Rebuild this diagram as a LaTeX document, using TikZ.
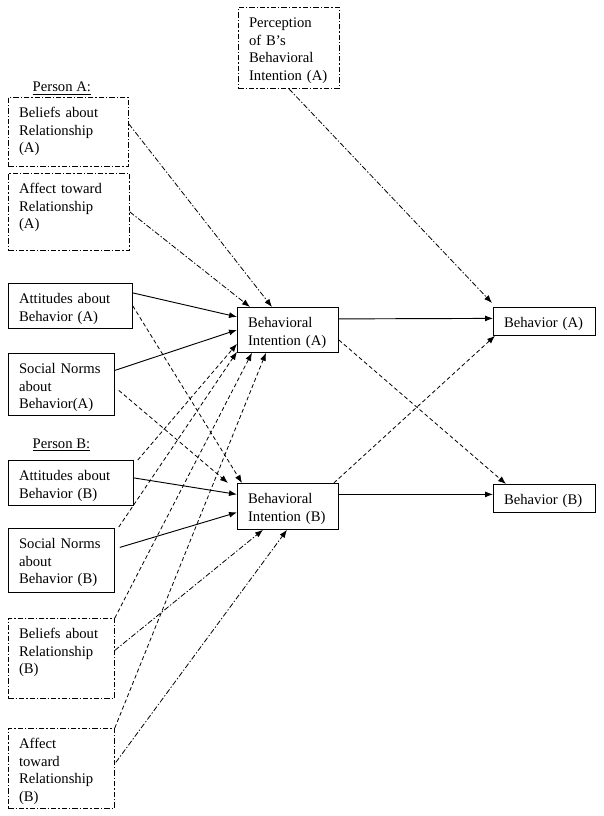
\documentclass[tikz,border=0pt]{standalone}
\usepackage{fontspec}
\setmainfont{Liberation Serif}
\usetikzlibrary{arrows.meta}

\begin{document}
\begin{tikzpicture}[x=0.75pt,y=-0.75pt,
        every node/.style={font=\fontsize{11pt}{13.3pt}\selectfont},
        box/.style={draw, anchor=north west, align=left, inner xsep=8pt, inner ysep=0pt, text height=15pt, line width=0.6pt},
        dotbox/.style={box, dash pattern=on 4pt off 1.5pt on 1pt off 1.5pt},
        solidarrow/.style={-{Latex[length=6pt,width=4.5pt]}, line width=0.7pt},
        dashedarrow/.style={-{Latex[length=6pt,width=4.5pt]}, line width=0.6pt, dash pattern=on 3pt off 2pt},
        dotarrow/.style={-{Latex[length=6pt,width=4.5pt]}, line width=0.6pt, dash pattern=on 4pt off 1.5pt on 1pt off 1.5pt}]
        \useasboundingbox (0,0) rectangle (603,816);

        % perception
        \node[dotbox, text width=59.75pt, text depth=45.75pt] (percep) at (238,7) {Perception\\of B’s\\Behavioral\\Intention (A)};

        % person A
        \node[anchor=base west] (persA) at (28,92) {\underline{Person A:}};
        \node[dotbox, text width=74pt, text depth=36.75pt] (beliefsA) at (8,97) {Beliefs about\\Relationship\\(A)};
        \node[dotbox, text width=74.75pt, text depth=42.75pt] (affectA) at (8,173) {Affect toward\\Relationship\\(A)};
        \node[box, text width=77pt, text depth=18.75pt] (attA) at (8,283) {Attitudes about\\Behavior (A)};
        \node[box, text width=63.5pt, text depth=31.5pt] (normsA) at (8,353) {Social Norms\\about\\Behavior(A)};

        % person B
        \node[anchor=base west] (persB) at (28,448) {\underline{Person B:}};
        \node[box, text width=77.75pt, text depth=18.75pt] (attB) at (8,460) {Attitudes about\\Behavior (B)};
        \node[box, text width=63.5pt, text depth=33pt] (normsB) at (8,528) {Social Norms\\about\\Behavior (B)};
        \node[dotbox, text width=63.5pt, text depth=45pt] (beliefsB) at (8,618) {Beliefs about\\Relationship\\(B)};
        \node[dotbox, text width=63.5pt, text depth=45pt] (affectB) at (8,728) {Affect\\toward\\Relationship\\(B)};

        % intentions
        \node[box, text width=59.75pt, text depth=18.75pt] (intA) at (237,307) {Behavioral\\Intention (A)};
        \node[box, text width=59.75pt, text depth=19.5pt] (intB) at (237,483) {Behavioral\\Intention (B)};

        % behaviors
        \node[box, text width=60.5pt, text depth=6pt] (behA) at (493,307) {Behavior (A)};
        \node[box, text width=60.5pt, text depth=6pt] (behB) at (493,484) {Behavior (B)};

        % into intention A
        \draw[dotarrow] ([shift={(0,-8)}]beliefsA.east) -- ([shift={(35,0)}]intA.north west);
        \draw[dotarrow] (affectA.east) -- ([shift={(13,0)}]intA.north west);
        \draw[solidarrow] ([shift={(0,-13)}]attA.east) -- ([shift={(0,-13)}]intA.west);
        \draw[solidarrow] ([shift={(0,-14)}]normsA.east) -- (intA.west);
        \draw[dashedarrow] ([shift={(4,0)}]attB.north east) -- ([shift={(0,-9)}]intA.south west);
        \draw[dashedarrow] ([shift={(4,-1)}]normsB.north east) -- ([shift={(0,-1)}]intA.south west);
        \draw[dashedarrow] (beliefsB.north east) -- ([shift={(15,0)}]intA.south west);
        \draw[dashedarrow] (affectB.north east) -- ([shift={(29,0)}]intA.south west);

        % into intention B
        \draw[dashedarrow] (attA.east) -- ([shift={(5,0)}]intB.north west);
        \draw[dashedarrow] ([shift={(4,6)}]normsA.east) -- ([shift={(-9,0)}]intB.north west);
        \draw[solidarrow] ([shift={(0,-5)}]attB.east) -- ([shift={(0,-12)}]intB.west);
        \draw[solidarrow] ([shift={(5,-13)}]normsB.east) -- ([shift={(0,6)}]intB.west);
        \draw[dotarrow] ([shift={(0,-8)}]beliefsB.east) -- ([shift={(26,0)}]intB.south west);
        \draw[dotarrow] ([shift={(1,-6)}]affectB.east) -- ([shift={(50,0)}]intB.south west);

        % into behaviors
        \draw[dotarrow] (percep.south) -- ([shift={(-1,-4)}]behA.north west);
        \draw[solidarrow] ([shift={(0,-11)}]intA.east) -- ([shift={(0,-3)}]behA.west);
        \draw[solidarrow] ([shift={(0,-12)}]intB.east) -- ([shift={(0,-4)}]behB.west);
        \draw[dashedarrow] ([shift={(0,10)}]intA.east) -- ([shift={(13,0)}]behB.north west);
        \draw[dashedarrow] ([shift={(-5,0)}]intB.north east) -- ([shift={(2,0)}]behA.south west);
    \end{tikzpicture}
\end{document}
